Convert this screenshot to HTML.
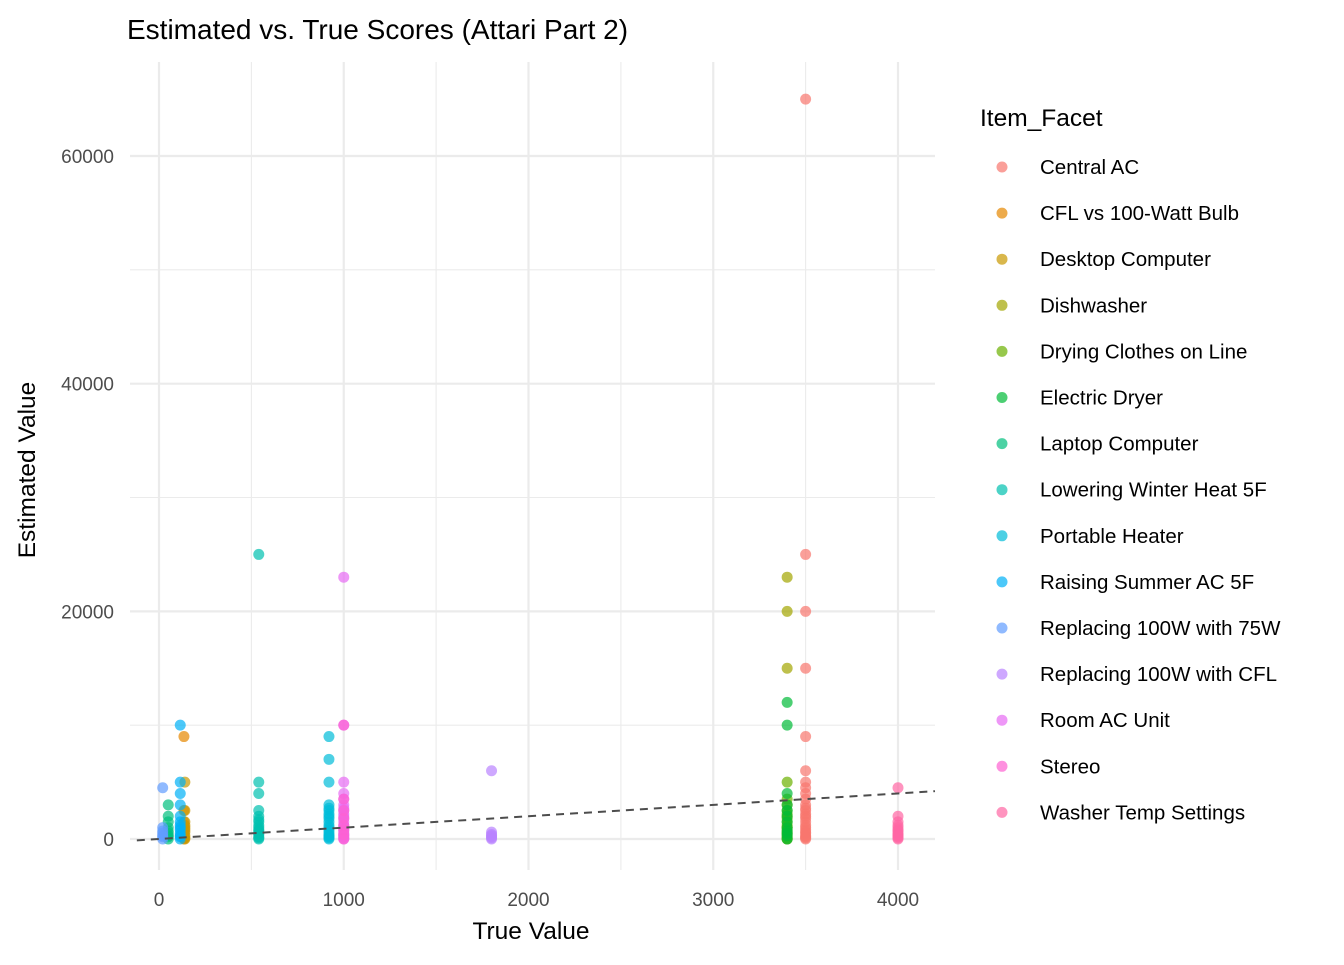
<!DOCTYPE html>
<html><head><meta charset="utf-8"><style>
body{margin:0;background:#fff;font-family:"Liberation Sans",Arial,sans-serif}
svg text{font-family:"Liberation Sans",Arial,sans-serif}
</style></head><body>
<svg id="chart" width="1344" height="960">
<text x="127" y="39" font-size="28" fill="#000">Estimated vs. True Scores (Attari Part 2)</text>
<g id="grid"></g><g id="pts"></g><g id="axes"></g><g id="legend"></g>
<text x="531" y="939" font-size="24.5" text-anchor="middle">True Value</text>
<text transform="translate(35,470) rotate(-90)" font-size="24.5" text-anchor="middle">Estimated Value</text>
</svg>
<script>
const categories=["Central AC","CFL vs 100-Watt Bulb","Desktop Computer","Dishwasher","Drying Clothes on Line","Electric Dryer","Laptop Computer","Lowering Winter Heat 5F","Portable Heater","Raising Summer AC 5F","Replacing 100W with 75W","Replacing 100W with CFL","Room AC Unit","Stereo","Washer Temp Settings"];
const colors=["#F8766D","#E58700","#C99800","#A3A500","#6BB100","#00BA38","#00BF7D","#00C0AF","#00BCD8","#00B0F6","#619CFF","#B983FF","#E76BF3","#FD61D1","#FF67A4"];
const trueVals=[3500,135,140,3400,3400,3400,50,540,920,115,20,1800,1000,1000,4000];
const estimates=[
[65000,25000,20000,15000,9000,6000,5000,4500,4000,3500,3000,2700,2500,2200,2000,1800,1500,1200,1000,800,600,500,300,200,100,0],
[9000,2500,1500,1200,1000,800,600,500,300,200,100,0],
[5000,2500,1500,1200,1000,800,600,300,100,0],
[23000,20000,15000,3000,2000,1000,500,0],
[5000,3500,2500,2200,1800,1500,1200,1000,800,600,400,200,100,0],
[12000,10000,4000,3000,2500,2000,1500,1000,700,500,300,0],
[3000,2000,1500,1000,700,500,300,200,0],
[25000,5000,4000,2500,2000,1700,1500,1200,1000,800,700,500,400,200,100,0],
[9000,7000,5000,3000,2700,2500,2200,2000,1800,1500,1200,1000,800,600,400,300,200,100,0],
[10000,5000,4000,3000,2000,1500,1200,1000,800,500,300,200,0],
[4500,1000,700,500,300,200,0],
[6000,600,400,300,200,100,0],
[23000,10000,5000,4000,3500,3000,2700,2500,2200,2000,1800,1500,1200,1000,800,600,400,300,200,100,0],
[10000,3500,2500,1800,1200,800,400,0],
[4500,2000,1500,1200,1000,800,700,500,400,300,200,100,0]
];
const xTicks=[0,1000,2000,3000,4000], yTicks=[0,20000,40000,60000];
const X=v=>159+v*0.18475, Y=v=>839-v*0.011383;
const NS="http://www.w3.org/2000/svg";
function mk(t,a,p){const e=document.createElementNS(NS,t);for(const k in a)e.setAttribute(k,a[k]);p.appendChild(e);return e;}
const grid=document.getElementById('grid'),axes=document.getElementById('axes');
for(let v=-500;v<=4500;v+=500){const x=X(v);if(x<130||x>935)continue;const l=mk('line',{x1:x,x2:x,y1:62,y2:870,stroke:'#ebebeb','stroke-width':v%1000===0?2.2:1.1},grid);

}
for(let v=-10000;v<=70000;v+=10000){const y=Y(v);if(y<62||y>870)continue;const l=mk('line',{x1:130,x2:935,y1:y,y2:y,stroke:'#ebebeb','stroke-width':v%20000===0?2.2:1.1},grid);

}
xTicks.forEach(v=>{const t=mk('text',{x:X(v),y:906,'font-size':19,fill:'#4d4d4d','text-anchor':'middle'},axes);t.textContent=v;

});
yTicks.forEach(v=>{const t=mk('text',{x:114,y:Y(v)+7,'font-size':19,fill:'#4d4d4d','text-anchor':'end'},axes);t.textContent=v;

});
const pts=document.getElementById('pts');
categories.forEach((c,i)=>{estimates[i].forEach(e=>{const p=mk('circle',{cx:X(trueVals[i]),cy:Y(e),r:5.5,fill:colors[i],'fill-opacity':0.7},pts);

});});
const ref=mk('line',{x1:X(-120),y1:Y(-120),x2:935,y2:Y((935-159)/0.18475),stroke:'#4d4d4d','stroke-width':2,'stroke-dasharray':'8,6'},axes);


const lg=document.getElementById('legend');
const lt=mk('text',{x:980,y:126,'font-size':24.5},lg);lt.textContent='Item_Facet';


categories.forEach((c,i)=>{const y=167+i*46.1;const g=mk('g',{},lg);


mk('circle',{cx:1002,cy:y,r:5.5,fill:colors[i],'fill-opacity':0.7},g);
const t=mk('text',{x:1040,y:y+7,'font-size':20.5},g);t.textContent=c;});
</script>
</body></html>
